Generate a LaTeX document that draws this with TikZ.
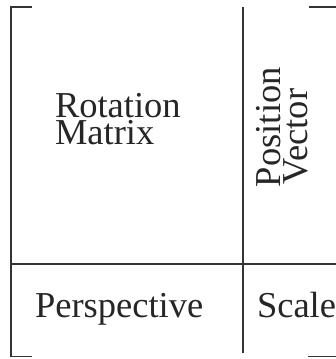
\documentclass[tikz,border=0pt]{standalone}
\usepackage{fontspec}
\setmainfont{Liberation Serif}
\begin{document}
\begin{tikzpicture}[x=1pt,y=-1pt,
  rule/.style={line width=1.6pt,draw=black!80},
  lbl/.style={inner sep=0pt,outer sep=0pt,anchor=base west,text=black!85,
    font=\fontsize{36.5}{27}\selectfont}]
\useasboundingbox (0,0) rectangle (335,359);
% brackets
\draw[rule] (32,7) -- (11,7) -- (11,356.5) -- (32,356.5);
\draw[rule] (309,7) -- (336,7);
\draw[rule] (308,356.5) -- (336,356.5);
% dividers
\coordinate (vt) at (243,7);
\coordinate (vb) at (243,353);
\coordinate (hl) at (11,264);
\coordinate (hr) at (336,264);
\draw[rule] (vt) -- (vb);
\draw[rule] (hl) -- (hr);
% labels
\node[lbl] (rot) at (55,117) {Rotation};
\node[lbl] (mat) at (55,144) {Matrix};
\node[lbl,rotate=90] (pos) at (280,187) {Position};
\node[lbl,rotate=90] (vec) at (307.5,184) {Vector};
\node[lbl] (per) at (35,317) {Perspective};
\node[lbl] (sca) at (257,317) {Scale};
\end{tikzpicture}
\end{document}
